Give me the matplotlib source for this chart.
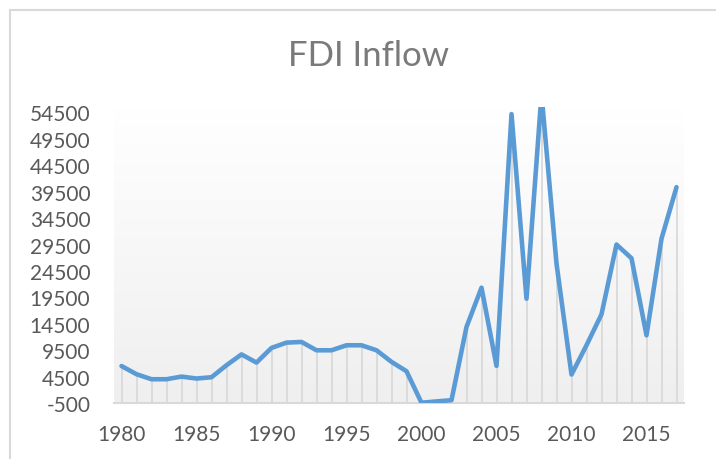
import numpy as np
import matplotlib.pyplot as plt
from matplotlib.colors import LinearSegmentedColormap
from matplotlib.lines import Line2D

years = list(range(1980, 2018))
fdi = [6500, 4950, 4000, 4000, 4500, 4130, 4380, 6650, 8700, 7150,
       9930, 10930, 11060, 9480, 9480, 10430, 10430, 9480, 7290, 5510,
       -450, -200, 30, 13900, 21330, 6530, 54200, 19250, 58000, 25900,
       4890, 10430, 16290, 29500, 26900, 12320, 30600, 40360]
xticks = [1980, 1985, 1990, 1995, 2000, 2005, 2010, 2015]
yticks = list(range(-500, 55000, 5000))

plt.rcParams['font.family'] = ['Lato', 'DejaVu Sans']
plt.rcParams['axes.unicode_minus'] = False

fig = plt.figure(figsize=(7.16, 4.6), dpi=100)
ax = fig.add_axes([114/716, 1-404/460, 570/716, 296/460])

ymin, ymax = -500, 55540
xmin, xmax = 1979.5, 2017.5

# plot area gradient, white at top to light grey at bottom
grad = np.linspace(0, 1, 256).reshape(-1, 1)
cmap = LinearSegmentedColormap.from_list('bg', ['#ffffff', '#efefef'])
ax.imshow(grad, cmap=cmap, aspect='auto', extent=[xmin, xmax, ymin, ymax],
          zorder=0, origin='upper')

ax.vlines(years, ymin, fdi, color='#d9d9d9', linewidth=1.3, zorder=1)
ax.plot(years, fdi, color='#5b9bd5', linewidth=3.3, solid_joinstyle='round',
        solid_capstyle='round', zorder=3)

ax.set_xlim(xmin, xmax)
ax.set_ylim(ymin, ymax)
ax.set_xticks(xticks)
ax.set_yticks(yticks)
ax.tick_params(length=0, labelsize=15, colors='#595959')
ax.tick_params(axis='x', pad=15)
ax.tick_params(axis='y', pad=17)

for s in ['top', 'right', 'left']:
    ax.spines[s].set_visible(False)
ax.spines['bottom'].set_color('#d9d9d9')
ax.spines['bottom'].set_linewidth(1.5)

fig.text(0.514, 1-56/460, 'FDI Inflow', ha='center', va='center',
         fontsize=25, color='#7a7a7a')

# chart area border (top and left visible)
fig.add_artist(Line2D([10/716, 1], [1-11/460, 1-11/460], color='#d9d9d9', linewidth=1.5))
fig.add_artist(Line2D([10/716, 10/716], [0, 1-11/460], color='#d9d9d9', linewidth=1.5))

fig.savefig('out.png', dpi=100)
